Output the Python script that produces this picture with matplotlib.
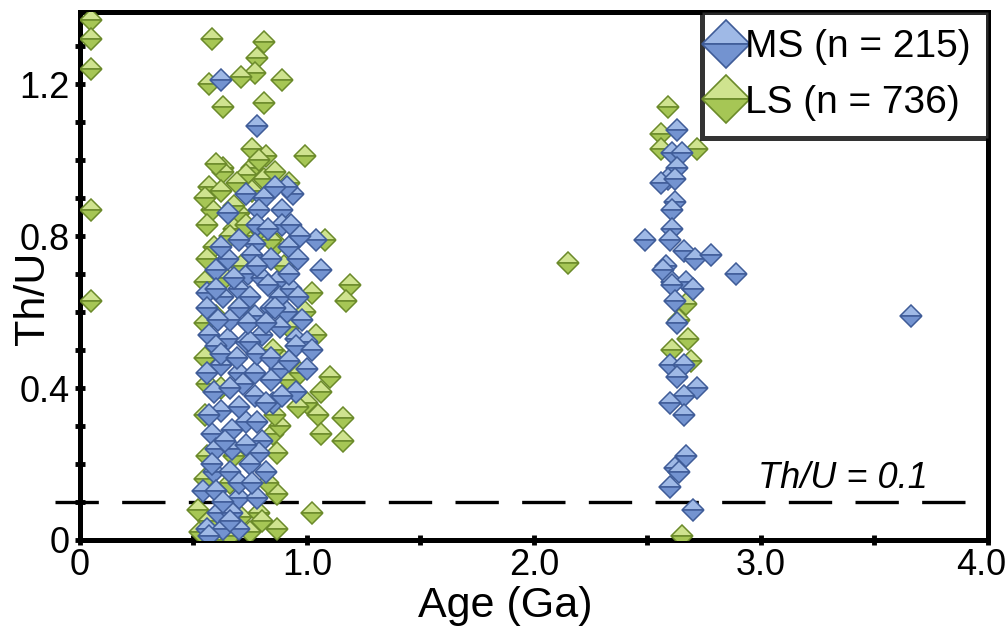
"""
Th/U ratio vs. U-Pb age for detrital zircons (MS vs LS samples).
Excel-style scatter: two-tone diamond markers, thick black frame.
"""

import matplotlib
matplotlib.use("Agg")
import matplotlib.pyplot as plt
from matplotlib.lines import Line2D
from matplotlib.transforms import ScaledTranslation
import numpy as np

plt.rcParams["font.family"] = ["Liberation Sans", "DejaVu Sans"]

# ── data (age in Ga, Th/U) ────────────────────────────────────────

ls_points = [
    # near-zero ages
    (0.05, 1.37), (0.05, 1.32), (0.05, 1.24), (0.05, 0.87), (0.05, 0.63),
    # 0.5 - 1.2 Ga cluster
    (0.58, 1.32), (0.81, 1.31), (0.78, 1.27), (0.77, 1.23), (0.71, 1.22),
    (0.57, 1.20), (0.89, 1.21), (0.63, 1.14), (0.81, 1.15), (0.76, 1.03),
    (0.82, 1.01), (0.99, 1.01), (0.63, 0.98), (0.76, 0.98), (0.79, 1.00),
    (0.63, 0.97), (0.57, 0.93), (0.73, 0.96), (0.81, 0.95), (0.92, 0.94),
    (0.58, 0.87), (0.70, 0.86), (0.68, 0.82), (0.75, 0.80), (1.08, 0.79),
    (0.59, 0.77), (0.87, 0.78), (0.56, 0.74), (0.71, 0.72), (1.19, 0.67),
    (1.17, 0.63), (0.60, 0.59), (1.04, 0.54), (1.10, 0.43), (1.06, 0.39),
    (1.00, 0.36), (0.96, 0.35), (1.05, 0.33), (1.16, 0.32), (1.06, 0.28),
    (1.16, 0.26), (0.85, 0.28), (0.88, 0.30), (0.87, 0.23), (0.68, 0.22),
    (0.87, 0.12), (0.52, 0.08), (1.02, 0.07), (0.87, 0.03), (0.53, 0.02),
    (0.71, 0.06), (0.79, 0.07),
    (0.55, 0.90), (0.56, 0.83), (0.55, 0.68), (0.55, 0.57), (0.55, 0.48),
    (0.56, 0.41), (0.55, 0.33), (0.56, 0.22), (0.55, 0.16), (0.57, 0.05),
    (0.62, 0.00), (0.66, 0.01), (0.68, 0.88), (0.66, 0.80), (0.73, 0.83),
    (0.80, 0.81), (0.84, 0.79), (0.90, 0.72), (0.92, 0.56), (0.90, 0.47),
    (0.92, 0.42), (0.85, 0.50), (0.86, 0.33), (0.83, 0.15), (0.80, 0.05),
    (0.75, 0.02), (0.64, 0.69), (0.62, 0.40), (0.66, 0.15), (0.72, 0.62),
    (0.97, 0.44), (0.99, 0.60), (1.02, 0.65), (0.62, 0.92), (0.69, 0.94),
    (0.86, 0.97), (0.76, 0.92), (0.60, 0.99),
    # single grain at ~2.15 Ga
    (2.15, 0.73),
    # ~2.6 Ga column
    (2.59, 1.14), (2.56, 1.07), (2.56, 1.03), (2.72, 1.03), (2.67, 0.62),
    (2.64, 0.58), (2.68, 0.53), (2.61, 0.50), (2.69, 0.47), (2.65, 0.01),
]

ms_points = [
    # 0.5 - 1.1 Ga cluster
    (0.62, 1.21), (0.78, 1.09), (0.73, 0.91), (0.81, 0.90), (0.94, 0.91),
    (0.91, 0.93), (0.79, 0.87), (0.89, 0.87), (0.78, 0.83), (0.89, 0.83),
    (1.04, 0.79), (0.77, 0.78), (0.92, 0.77), (0.76, 0.75), (0.65, 0.74),
    (0.84, 0.74), (0.60, 0.71), (1.06, 0.71), (0.74, 0.70), (0.80, 0.69),
    (0.87, 0.68), (0.83, 0.67), (0.56, 0.65), (0.63, 0.64), (0.70, 0.66),
    (0.75, 0.64), (0.88, 0.64), (0.93, 0.66), (0.96, 0.64), (0.56, 0.61),
    (0.70, 0.61), (0.84, 0.61), (0.77, 0.59), (0.91, 0.60), (0.98, 0.58),
    (0.57, 0.54), (0.65, 0.53), (0.80, 0.54), (0.88, 0.56), (0.95, 0.53),
    (1.00, 0.52), (0.73, 0.52), (0.60, 0.51), (0.75, 0.52), (0.95, 0.51),
    (1.02, 0.50), (1.00, 0.45), (0.88, 0.45), (0.62, 0.46), (0.56, 0.44),
    (0.70, 0.44), (0.77, 0.44), (0.84, 0.42), (0.59, 0.39), (0.72, 0.41),
    (0.95, 0.39), (0.62, 0.34), (0.85, 0.36), (0.73, 0.31), (0.67, 0.29),
    (0.58, 0.28), (0.80, 0.26), (0.60, 0.24), (0.67, 0.24), (0.79, 0.23),
    (0.75, 0.20), (0.59, 0.18), (0.66, 0.18), (0.82, 0.18), (0.54, 0.13),
    (0.60, 0.13), (0.70, 0.11), (0.78, 0.11), (0.61, 0.07), (0.67, 0.07),
    (0.56, 0.03), (0.63, 0.03), (0.70, 0.03),
    (0.65, 0.86), (0.70, 0.79), (0.83, 0.82), (0.86, 0.93), (0.62, 0.77),
    (0.68, 0.69), (0.78, 0.72), (0.92, 0.70), (0.96, 0.74), (0.60, 0.66),
    (0.66, 0.58), (0.74, 0.57), (0.82, 0.57), (0.86, 0.61), (0.62, 0.49),
    (0.69, 0.48), (0.78, 0.49), (0.84, 0.48), (0.92, 0.47), (0.66, 0.40),
    (0.77, 0.38), (0.82, 0.36), (0.89, 0.38), (0.57, 0.33), (0.70, 0.35),
    (0.78, 0.31), (0.64, 0.26), (0.73, 0.25), (0.58, 0.20), (0.70, 0.15),
    (0.76, 0.15), (0.63, 0.10), (0.57, 0.01), (0.66, 0.05), (0.61, 0.58),
    (0.93, 0.83), (0.97, 0.80),
    # ~2.6 Ga column
    (2.63, 1.08), (2.61, 1.02), (2.65, 1.02), (2.63, 0.98), (2.59, 0.95),
    (2.56, 0.94), (2.62, 0.95), (2.62, 0.89), (2.61, 0.87), (2.61, 0.82),
    (2.49, 0.79), (2.60, 0.79), (2.66, 0.76), (2.71, 0.74), (2.78, 0.75),
    (2.58, 0.72), (2.57, 0.71), (2.61, 0.68), (2.67, 0.68), (2.70, 0.66),
    (2.61, 0.67), (2.62, 0.63), (2.63, 0.57), (2.60, 0.46), (2.66, 0.46),
    (2.63, 0.43), (2.72, 0.40), (2.66, 0.38), (2.60, 0.36), (2.66, 0.33),
    (2.67, 0.22), (2.62, 0.19), (2.64, 0.18), (2.60, 0.14), (2.70, 0.08),
    # isolated older grains
    (2.89, 0.70), (3.66, 0.59),
]

series = [
    # label, points, top face, bottom face, edge
    ("LS (n = 736)", ls_points, "#cfe38f", "#a6c655", "#6b8a2a"),
    ("MS (n = 215)", ms_points, "#9fb9e6", "#7393d0", "#3f5c98"),
]

threshold = 0.1

# ── figure ────────────────────────────────────────────────────────

fig = plt.figure(figsize=(10.06, 6.41), dpi=100)
ax = fig.add_axes([0.0795, 0.1576, 0.9026, 0.8237])

for label, pts, top, bottom, edge in series:
    pts = np.array(pts)
    for age, thu in pts:
        ax.plot(age, thu, linestyle="none", marker="D", markersize=11,
                fillstyle="top", markerfacecolor=top,
                markerfacecoloralt=bottom, markeredgecolor=edge,
                markeredgewidth=1.1, zorder=3)

# Th/U = 0.1 reference line
ax.plot([-0.11, 4.0], [threshold, threshold], color="black", lw=2.4,
        linestyle=(0, (13, 7)), clip_on=False, zorder=2)
ax.text(3.36, threshold + 0.015, "Th/U = 0.1", fontsize=26, style="italic",
        ha="center", va="bottom", zorder=4)

ax.set_xlim(0, 4.0)
ax.set_ylim(0, 1.39)
ax.set_xticks([0, 1, 2, 3, 4])
ax.set_xticklabels(["0", "1.0", "2.0", "3.0", "4.0"])
ax.set_xticks([0.5, 1.5, 2.5, 3.5], minor=True)
ax.set_yticks([0, 0.4, 0.8, 1.2])
ax.set_yticklabels(["0", "0.4", "0.8", "1.2"])
ax.set_yticks([0.1, 0.2, 0.3, 0.5, 0.6, 0.7, 0.9, 1.0, 1.1, 1.3], minor=True)

ax.tick_params(which="both", direction="inout", length=7, width=3.5,
               color="black", labelsize=26)
ax.tick_params(axis="y", which="both", pad=4)
ax.tick_params(axis="x", which="both", pad=2)
ax.tick_params(axis="x", which="both", top=False)
ax.tick_params(axis="y", which="both", right=False)

for spine in ax.spines.values():
    spine.set_linewidth(3.6)
    spine.set_color("black")

ax.set_xlabel("Age (Ga)", fontsize=31)
ax.set_ylabel("Th/U", fontsize=31)
ax.xaxis.set_label_coords(0.468, -0.088)
ax.yaxis.set_label_coords(-0.03, 0.458)

# keep the last x label inside the canvas
last = ax.get_xticklabels()[-1]
last.set_transform(last.get_transform() +
                   ScaledTranslation(-5 / 72, 0, fig.dpi_scale_trans))

handles = [
    Line2D([], [], linestyle="none", marker="D", markersize=24,
           fillstyle="top", markerfacecolor=s[2], markerfacecoloralt=s[3],
           markeredgecolor=s[4], markeredgewidth=1.2)
    for s in series[::-1]
]
leg = ax.legend(handles, [s[0] for s in series[::-1]], loc="upper right",
                fontsize=28, frameon=True, fancybox=False, borderaxespad=0,
                handlelength=0.35, handletextpad=0.3, borderpad=0.45,
                labelspacing=0.5)
leg.get_frame().set_edgecolor("black")
leg.get_frame().set_linewidth(3.6)
leg.set_zorder(5)

fig.savefig("out.png", dpi=100)
